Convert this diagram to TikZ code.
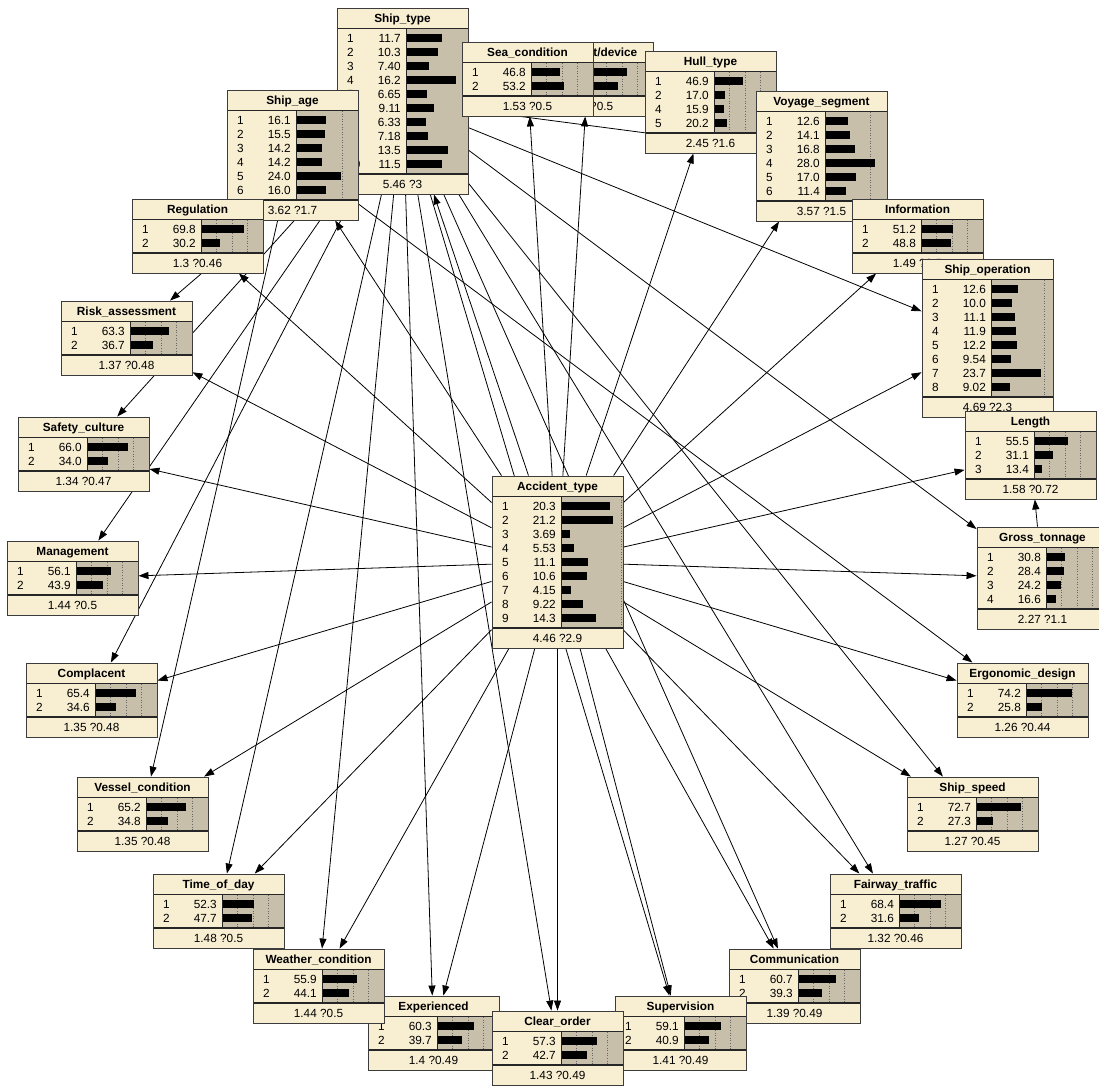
\documentclass[tikz,border=0pt]{standalone}
\usepackage{fontspec}
\setmainfont{Liberation Sans}
\usetikzlibrary{arrows.meta}
\pgfdeclarelayer{links}
\pgfsetlayers{links,main}
\definecolor{nodecream}{RGB}{248,238,210}
\definecolor{barshade}{RGB}{200,191,170}
\definecolor{framegray}{RGB}{60,60,60}
\tikzset{
  netframe/.style={draw=framegray, fill=nodecream, line width=0.9pt, minimum width=131pt, inner sep=0pt},
  framelin/.style={draw=framegray, line width=0.9pt},
  seplin/.style={draw=black!85, line width=0.8pt},
  gridln/.style={draw=black!60, dotted, line width=0.6pt},
  statetxt/.style={anchor=base west, inner sep=0pt},
  valtxt/.style={anchor=base east, inner sep=0pt},
  titletxt/.style={anchor=base, inner sep=0pt, font=\fontsize{11.8}{13}\selectfont\bfseries},
  foottxt/.style={anchor=base, inner sep=0pt},
  link/.style={-{Triangle[length=10pt,width=7pt]}, line width=0.8pt, black}
}
% #1 name, #2 x, #3 y, #4 states, #5 title, #6 bar scale, #7 footer, #8 rows
\def\netnode#1#2#3#4#5#6#7#8{%
  \begin{scope}[shift={(#2,#3)}]
    \pgfmathsetmacro\nh{46+14*#4}
    \pgfmathsetmacro\bb{26+14*#4}
    \node[netframe, minimum height=\nh pt] (#1) at (65.5,\nh/2) {};
    \fill[barshade] (69,20) rectangle (131,\bb);
    \foreach \k in {1,2,3}{
      \pgfmathsetmacro\gx{69+15.5*\k*#6}
      \pgfmathtruncatemacro\ok{\gx<129.9}
      \ifnum\ok=1 \draw[gridln] (\gx,21) -- (\gx,\bb-1);\fi
    }
    \foreach \s/\v [count=\i] in {#8}{
      \pgfmathsetmacro\ry{30+14*(\i-1)}
      \pgfmathsetmacro\bl{min(61.5,0.62*\v*#6)}
      \fill (69,\ry-4) rectangle (69+\bl,\ry+4);
      \node[statetxt] at (10,\ry+4.2) {\s};
      \node[valtxt] at (64,\ry+4.2) {\v};
    }
    \draw[seplin] (0,20) -- (131,20);
    \draw[seplin] (69,20) -- (69,\bb);
    \draw[seplin, line width=1.4pt] (0,\bb) -- (131,\bb);
    \draw[framelin] (0,0) rectangle (131,\nh);
    \node[titletxt] at (65.5,14.7) {#5};
    \node[foottxt] at (65.5,\bb+14.5) {#7};
  \end{scope}}

\begin{document}
\begin{tikzpicture}[x=1pt,y=-1pt,font=\fontsize{11.8}{13}\selectfont]
  %%%%% START %%%%%
  \useasboundingbox (0,0) rectangle (1099,1086);

  \netnode{ShipType}{337}{8}{10}{Ship\_type}{5}{5.46 ?3}{1/11.7,2/10.3,3/7.40,4/16.2,5/6.65,6/9.11,7/6.33,8/7.18,9/13.5,10/11.5}
  \netnode{ShipAge}{227}{90}{6}{Ship\_age}{3}{3.62 ?1.7}{1/16.1,2/15.5,3/14.2,4/14.2,5/24.0,6/16.0}
  \netnode{Regulation}{132}{199}{2}{Regulation}{1}{1.3 ?0.46}{1/69.8,2/30.2}

  % half hidden node under Sea_condition and Hull_type
  \begin{scope}[shift={(522,42)}]
    \node[netframe, minimum height=74pt] (Device) at (65.5,37) {};
    \fill[barshade] (69,20) rectangle (131,54);
    \foreach \k in {1,2,3} \draw[gridln] (69+15.5*\k,21) -- (69+15.5*\k,53);
    \fill (69,26) rectangle (104.7,34);
    \fill (69,40) rectangle (95.7,48);
    \draw[seplin] (0,20) -- (131,20);
    \draw[seplin] (69,20) -- (69,54);
    \draw[seplin, line width=1.4pt] (0,54) -- (131,54);
    \draw[framelin] (0,0) rectangle (131,74);
    \node[titletxt, anchor=base east] at (115.5,14.7) {t/device};
    \node[foottxt, anchor=base west] at (68,68.5) {?0.5};
  \end{scope}

  \netnode{SeaCond}{462}{42}{2}{Sea\_condition}{1}{1.53 ?0.5}{1/46.8,2/53.2}
  \netnode{HullType}{645}{51}{4}{Hull\_type}{1}{2.45 ?1.6}{1/46.9,2/17.0,4/15.9,5/20.2}
  \netnode{Voyage}{756}{91}{6}{Voyage\_segment}{2.9}{3.57 ?1.5}{1/12.6,2/14.1,3/16.8,4/28.0,5/17.0,6/11.4}
  \netnode{Information}{852}{199}{2}{Information}{1}{1.49 ?0.5}{1/51.2,2/48.8}
  \netnode{ShipOp}{922}{259}{8}{Ship\_operation}{3.42}{4.69 ?2.3}{1/12.6,2/10.0,3/11.1,4/11.9,5/12.2,6/9.54,7/23.7,8/9.02}
  \netnode{Length}{965}{411}{3}{Length}{1}{1.58 ?0.72}{1/55.5,2/31.1,3/13.4}
  \netnode{GrossTon}{977}{527}{4}{Gross\_tonnage}{1}{2.27 ?1.1}{1/30.8,2/28.4,3/24.2,4/16.6}
  \netnode{Ergonomic}{957}{663}{2}{Ergonomic\_design}{1}{1.26 ?0.44}{1/74.2,2/25.8}
  \netnode{ShipSpeed}{907}{777}{2}{Ship\_speed}{1}{1.27 ?0.45}{1/72.7,2/27.3}
  \netnode{Fairway}{830}{874}{2}{Fairway\_traffic}{1}{1.32 ?0.46}{1/68.4,2/31.6}
  \netnode{Communication}{729}{949}{2}{Communication}{1}{1.39 ?0.49}{1/60.7,2/39.3}
  \netnode{Supervision}{615}{996}{2}{Supervision}{1}{1.41 ?0.49}{1/59.1,2/40.9}
  \netnode{Experienced}{368}{996}{2}{Experienced}{1}{1.4 ?0.49}{1/60.3,2/39.7}
  \netnode{Weather}{253}{949}{2}{Weather\_condition}{1}{1.44 ?0.5}{1/55.9,2/44.1}
  \netnode{ClearOrder}{492}{1011}{2}{Clear\_order}{1}{1.43 ?0.49}{1/57.3,2/42.7}
  \netnode{TimeOfDay}{153}{874}{2}{Time\_of\_day}{1}{1.48 ?0.5}{1/52.3,2/47.7}
  \netnode{Vessel}{77}{777}{2}{Vessel\_condition}{1}{1.35 ?0.48}{1/65.2,2/34.8}
  \netnode{Complacent}{26}{663}{2}{Complacent}{1}{1.35 ?0.48}{1/65.4,2/34.6}
  \netnode{Management}{7}{541}{2}{Management}{1}{1.44 ?0.5}{1/56.1,2/43.9}
  \netnode{Safety}{18}{417}{2}{Safety\_culture}{1}{1.34 ?0.47}{1/66.0,2/34.0}
  \netnode{Risk}{61}{301}{2}{Risk\_assessment}{1}{1.37 ?0.48}{1/63.3,2/36.7}
  \netnode{Accident}{492}{476}{9}{Accident\_type}{3.92}{4.46 ?2.9}{1/20.3,2/21.2,3/3.69,4/5.53,5/11.1,6/10.6,7/4.15,8/9.22,9/14.3}

  % links, all under the boxes
  \begin{pgfonlayer}{links}
    \foreach \t in {SeaCond,Device,HullType,Voyage,Information,ShipOp,Length,GrossTon,Ergonomic,ShipSpeed,Fairway,Communication,Supervision,ClearOrder,Experienced,Weather,TimeOfDay,Vessel,Complacent,Management,Safety,Risk,Regulation,ShipAge,ShipType}
      \draw[link] (Accident) -- (\t);
    \foreach \t in {Voyage,ShipOp,GrossTon,ShipSpeed,Fairway,Communication,Supervision,ClearOrder,Experienced,Weather,TimeOfDay,Complacent,Management,Safety,Risk}
      \draw[link] (ShipType) -- (\t);
    \draw[link] (ShipAge) -- (Vessel);
    \draw[link] (ShipAge) -- (Ergonomic);
    \draw[link] (GrossTon) -- (Length);
  \end{pgfonlayer}

  %%%%% END %%%%%
\end{tikzpicture}
\end{document}
